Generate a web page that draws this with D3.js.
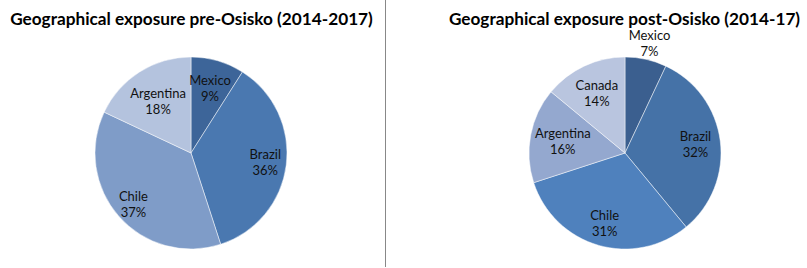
<!DOCTYPE html>
<html>
<head>
<meta charset="utf-8">
<script src="https://cdn.jsdelivr.net/npm/d3@7"></script>
<style>
  body { margin: 0; background: #fff; }
  svg { display: block; font-family: Lato, "Open Sans", sans-serif; }
</style>
</head>
<body>
<div id="chart"></div>
<script>
const W = 807, H = 268;

// pre-Osisko
const preCountries = ["Mexico", "Brazil", "Chile", "Argentina"];
const preValues = [9, 36, 37, 18];
const preColors = ["#3d6599", "#4a78b0", "#7f9cc8", "#b4c3de"];

// post-Osisko
const postCountries = ["Mexico", "Brazil", "Chile", "Argentina", "Canada"];
const postValues = [7, 32, 31, 16, 14];
const postColors = ["#3b5f8f", "#4572a7", "#4f81bd", "#94a8cf", "#b9c5df"];

// where the labels sit, as a share of the radius
const preLabelR = [0.71, 0.78, 0.8, 0.64];
const postLabelR = [1.17, 0.74, 0.76, 0.66, 0.69];

const svg = d3.select("#chart").append("svg")
    .attr("width", W)
    .attr("height", H);

svg.append("rect").attr("width", W).attr("height", H).attr("fill", "#fff");

// divider between the two charts
svg.append("line")
    .attr("x1", 385.5).attr("x2", 385.5)
    .attr("y1", 0).attr("y2", 267)
    .attr("stroke", "#888")
    .attr("stroke-width", 1);

function drawPie(opts) {
  const g = svg.append("g")
      .attr("transform", `translate(${opts.cx}, ${opts.cy})`);

  const data = opts.names.map((n, i) => ({ name: n, value: opts.values[i], i: i }));
  const pie = d3.pie().sort(null).value(d => d.value);
  const arcs = pie(data);
  const arc = d3.arc().innerRadius(0).outerRadius(opts.r);

  g.selectAll("path.slice")
    .data(arcs)
    .join("path")
      .attr("class", "slice")
      .attr("d", arc)
      .attr("fill", d => opts.colors[d.index])
      .attr("stroke", "#fff")
      .attr("stroke-opacity", 0.6)
      .attr("stroke-width", 0.8);

  const lbl = g.selectAll("text.lbl")
    .data(arcs)
    .join("text")
      .attr("class", "lbl")
      .attr("transform", d => {
        const a = (d.startAngle + d.endAngle) / 2;
        const rr = opts.r * opts.labelR[d.index];
        return `translate(${Math.sin(a) * rr}, ${-Math.cos(a) * rr})`;
      })
      .attr("text-anchor", "middle")
      .style("font-size", "13px")
      .style("fill", "#111");

  lbl.append("tspan")
      .attr("x", 0)
      .attr("y", -3)
      .text(d => d.data.name);
  lbl.append("tspan")
      .attr("x", 0)
      .attr("y", 13)
      .text(d => d.data.value + "%");

  const title = svg.append("text")
      .attr("x", opts.titleX)
      .attr("y", 25)
      .attr("text-anchor", "middle")
      .style("font-size", "18px")
      .style("font-weight", "bold")
      .style("fill", "#000")
      .text(opts.title);

  // shrink the title to the width it has in the original
  const w = title.node().getComputedTextLength();
  title.style("font-size", (18 * opts.titleW / w).toFixed(2) + "px");
}

drawPie({
  cx: 191, cy: 153, r: 96,
  names: preCountries, values: preValues, colors: preColors, labelR: preLabelR,
  title: "Geographical exposure pre-Osisko (2014-2017)", titleX: 191.5, titleW: 363
});

drawPie({
  cx: 625, cy: 153, r: 96,
  names: postCountries, values: postValues, colors: postColors, labelR: postLabelR,
  title: "Geographical exposure post-Osisko (2014-17)", titleX: 624.5, titleW: 351
});
</script>
</body>
</html>
